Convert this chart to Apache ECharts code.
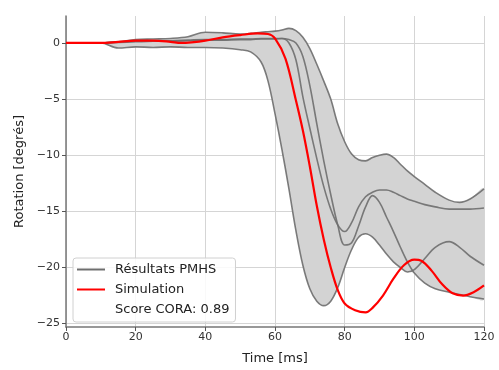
<!DOCTYPE html>
<html><head><meta charset="utf-8">
<script src="https://cdn.jsdelivr.net/npm/echarts@6/dist/echarts.min.js"></script>
<style>html,body{margin:0;padding:0;background:#fff}#c{width:499px;height:370px}</style>
</head><body><div id="c"></div>
<script>
const T = [0,5,10,15,20,25,30,35,40,45,50,53,56,58,60,62,64,66,68,70,72,74,76,78,80,82,84,86,88,90,92,94,96,98,100,103,106,110,113,116,120];
const pmhsU = [0,0,0,0.1,0.3,0.35,0.4,0.55,0.95,0.9,0.8,0.85,0.95,1.0,1.05,1.15,1.3,1.1,0.5,-0.5,-1.9,-3.4,-5.0,-7.2,-8.8,-9.9,-10.4,-10.5,-10.2,-10.0,-9.9,-10.2,-10.8,-11.4,-11.9,-12.6,-13.3,-14.0,-14.2,-13.9,-13.0];
const pmhsA = [0,0,0,0.1,0.15,0.2,0.2,0.25,0.3,0.3,0.35,0.35,0.4,0.4,0.4,0.4,0.0,-1.5,-4.8,-7.6,-10.3,-12.8,-14.8,-16.2,-16.8,-16.0,-14.6,-13.7,-13.3,-13.1,-13.1,-13.3,-13.6,-13.9,-14.1,-14.4,-14.6,-14.8,-14.8,-14.8,-14.7];
const pmhsB = [0,0,0,0.05,0.1,0.15,0.15,0.2,0.25,0.25,0.3,0.3,0.35,0.35,0.35,0.4,0.3,0.0,-1.2,-3.8,-7.2,-10.5,-13.5,-16.2,-18.0,-17.8,-16.3,-14.6,-13.6,-14.2,-15.5,-16.8,-18.2,-19.5,-20.5,-21.4,-21.9,-22.2,-22.4,-22.6,-22.8];
const pmhsC = [0,0,0,-0.45,-0.35,-0.4,-0.35,-0.4,-0.4,-0.45,-0.6,-0.8,-1.7,-3.4,-6.3,-9.5,-13.0,-16.7,-19.8,-21.9,-23.0,-23.4,-23.0,-21.8,-20.0,-18.4,-17.3,-17.0,-17.3,-18.0,-18.8,-19.5,-20.0,-20.4,-20.2,-19.2,-18.2,-17.7,-18.2,-19.0,-19.8];
const simT = [0,5,10,15,20,25,30,33,36,40,45,50,55,58,60,63,66,68,70,72,74,76,78,80,83,86,88,91,94,97,100,102,105,108,111,114,117,120];
const sim = [0,0,0,0.1,0.2,0.2,0.1,0.0,0.05,0.2,0.5,0.7,0.85,0.8,0.4,-1.4,-5.1,-7.8,-11.0,-14.5,-17.5,-20.0,-22.0,-23.2,-23.8,-24.0,-23.6,-22.5,-21.0,-19.8,-19.3,-19.4,-20.3,-21.5,-22.3,-22.5,-22.2,-21.6];
const xTicks = [0,20,40,60,80,100,120];
const yTicks = [-25,-20,-15,-10,-5,0];
const legendNames = ['Résultats PMHS','Simulation','Score CORA: 0.89'];

const curves = [pmhsU, pmhsA, pmhsB, pmhsC];
const bandLow = T.map((_,i)=>Math.min(...curves.map(c=>c[i])));
const bandHigh = T.map((_,i)=>Math.max(...curves.map(c=>c[i])));
const pair = (xs, ys) => xs.map((x,i)=>[x, ys[i]]);
const grayLine = {color:'rgba(110,110,110,0.9)', width:1.6};
const fmt = v => String(v).replace('-', '\u2212');
const SM = 0.35;

const chart = echarts.init(document.getElementById('c'), null, {renderer:'canvas'});
const grayS = (name, ys) => ({type:'line', name, data:pair(T, ys), smooth:SM, symbol:'none',
  color:'#6e6e6e', lineStyle:grayLine, z:3});
chart.setOption({
  animation:false,
  textStyle:{fontFamily:'DejaVu Sans'},
  grid:{left:66, right:15, top:16, bottom:41},
  xAxis:{type:'value', min:0, max:120, interval:20,
    name:'Time [ms]', nameLocation:'middle', nameGap:25,
    nameTextStyle:{fontSize:13, color:'#222'},
    axisLine:{onZero:false, lineStyle:{color:'#777', width:1.5}},
    axisTick:{show:true, length:4, lineStyle:{color:'#555'}},
    axisLabel:{fontSize:11, color:'#333', margin:5},
    splitLine:{show:true, lineStyle:{color:'#d5d5d5', width:1}}},
  yAxis:{type:'value', min:-25.3, max:2.4,
    name:'Rotation [degrés]', nameLocation:'middle', nameGap:40, nameRotate:90,
    nameTextStyle:{fontSize:13, color:'#222'},
    axisLine:{show:true, onZero:false, lineStyle:{color:'#777', width:1.5}},
    axisTick:{show:true, length:4, customValues:yTicks, lineStyle:{color:'#555'}},
    axisLabel:{fontSize:11, color:'#333', margin:6, customValues:yTicks, formatter:fmt},
    splitLine:{show:true, lineStyle:{color:'#d5d5d5', width:1}}},
  legend:{left:73, top:258, orient:'vertical', data:legendNames,
    backgroundColor:'rgba(255,255,255,0.85)', borderColor:'#d0d0d0', borderWidth:1, borderRadius:3,
    padding:[5,6,6,4], itemGap:7, itemWidth:28, itemHeight:2, icon:'rect',
    textStyle:{fontSize:13, color:'#222', fontFamily:'DejaVu Sans', padding:[0,0,0,5]}},
  series:[
    {type:'custom', name:'band', coordinateSystem:'cartesian2d', data:[[0,0]], silent:true, z:1, clip:true,
      renderItem:(params, api)=>{
        if (params.dataIndex !== 0) return;
        const pts = [];
        for (let i=0;i<T.length;i++) pts.push(api.coord([T[i], bandHigh[i]]));
        for (let i=T.length-1;i>=1;i--) pts.push(api.coord([T[i], bandLow[i]]));
        return {type:'polygon', shape:{points:pts, smooth:SM}, style:{fill:'#d3d3d3', stroke:null}};
      }},
    grayS('Résultats PMHS', pmhsU),
    grayS('pmhsA', pmhsA),
    grayS('pmhsB', pmhsB),
    grayS('pmhsC', pmhsC),
    {type:'line', name:'Simulation', data:pair(simT, sim), smooth:SM, symbol:'none', color:'#ff0000', lineStyle:{color:'#ff0000', width:2.2}, z:5},
    {type:'line', name:'Score CORA: 0.89', data:[], symbol:'none', color:'rgba(0,0,0,0)', lineStyle:{opacity:0}}
  ]
});
</script></body></html>
